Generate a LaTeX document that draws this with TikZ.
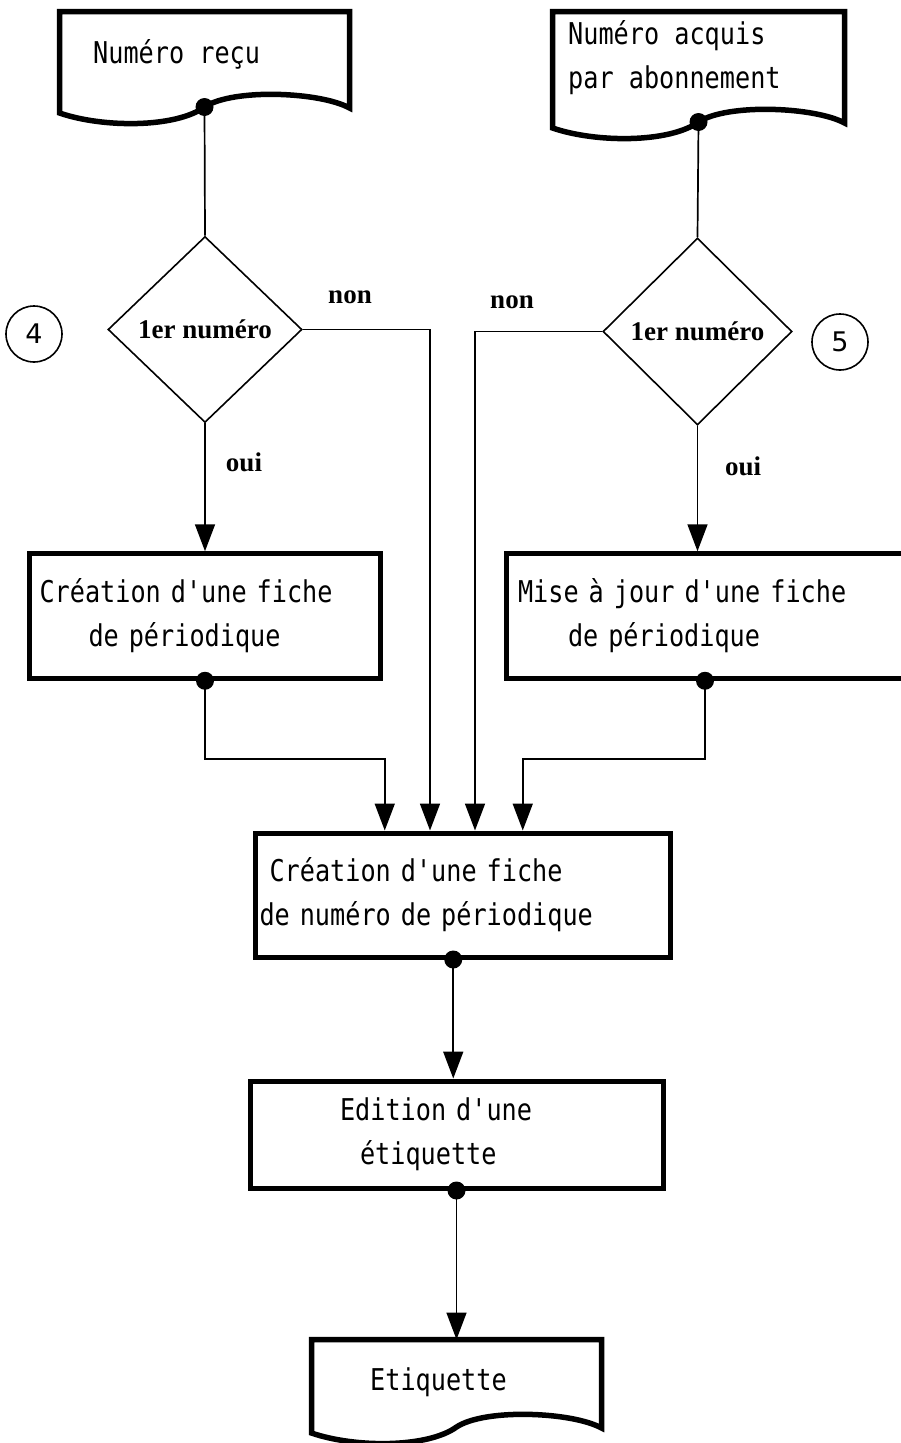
\documentclass[tikz,border=0pt]{standalone}
\usepackage{fontspec}
\usetikzlibrary{arrows.meta,shapes.geometric}
\newfontfamily\boxfont{DejaVu Sans Mono}[FakeStretch=0.84]
\newfontfamily\askfont{Liberation Serif}
\newfontfamily\numfont{DejaVu Sans}
\newcommand\docframe[5]{%
  \draw[docline] (#2,#5) -- (#2,#3) -- (#4,#3) -- (#4,#5-5)
    .. controls ({#2+0.9*(#4-#2)},#5-21) and ({#2+0.6*(#4-#2)},#5-25) .. ({(#2+#4)/2},#5-6) coordinate (#1-dot)
    .. controls ({#2+0.4*(#4-#2)},#5+15) and ({#2+0.15*(#4-#2)},#5+15) .. (#2,#5) -- cycle;
  \coordinate (#1-top) at ({(#2+#4)/2},#3);}

\begin{document}
\begin{tikzpicture}[x=1pt,y=-1pt,
    txt/.style={font=\boxfont\fontsize{30}{44}\selectfont, inner sep=0pt},
    ask/.style={font=\askfont\bfseries\fontsize{27}{30}\selectfont, inner sep=0pt},
    docline/.style={line width=5.5pt},
    proc/.style={draw, rectangle, line width=5pt, align=left, txt},
    test/.style={draw, diamond, line width=1.6pt, minimum width=194pt, minimum height=186pt, ask},
    tag/.style={draw, circle, line width=1.6pt, minimum size=56pt, inner sep=0pt, font=\numfont\fontsize{27}{27}\selectfont},
    link/.style={line width=1.7pt},
    flow/.style={link, -{Triangle[length=27pt,width=20pt]}}]
    \useasboundingbox (0,0) rectangle (901,1443);
    \clip (0,0) rectangle (901,1443);
    \docframe{recu}{59.5}{11.5}{349.5}{113}
    \docframe{acquis}{552.5}{11.5}{844.5}{128}
    \docframe{etq}{311.5}{1339.5}{601.5}{1433}
    \node[txt, anchor=base west] (recutxt) at (93,63) {Numéro reçu};
    \node[txt, anchor=west, align=left] (acquistxt) at (568,58) {Numéro acquis\\par abonnement};
    \node[txt, anchor=base west] (etqtxt) at (370,1390) {Etiquette};
    \node[test] (q1) at (205,329.5) {1er numéro};
    \node[test, minimum width=189pt, minimum height=187pt] (q2) at (697.5,331.5) {1er numéro};
    \node[tag] (n4) at (34,334) {4};
    \node[tag] (n5) at (840,342) {5};
    \node[ask] (non1) at (350,297) {non};
    \node[ask] (non2) at (512,302) {non};
    \node[ask] (oui1) at (244,462) {oui};
    \node[ask] (oui2) at (743,466) {oui};
    \node[proc, text width=331pt, inner xsep=10pt, minimum height=124.5pt] (fper) at (205,616) {Création d'une fiche\\\hspace*{49pt}de périodique};
    \node[proc, text width=374pt, inner xsep=12pt, minimum height=124.5pt] (maj) at (705,616) {Mise à jour d'une fiche\\\hspace*{50pt}de périodique};
    \node[proc, text width=406.5pt, inner xsep=4pt, minimum height=124pt] (fnum) at (462.75,895) {\hspace*{10pt}Création d'une fiche\\de numéro de périodique};
    \node[proc, text width=233pt, inner xsep=90pt, minimum height=107pt] (edit) at (456.5,1134.5) {Edition d'une\\\hspace*{20pt}étiquette};
    \draw[link] (recu-dot) -- (q1.north);
    \draw[link] (acquis-dot) -- (q2.north);
    \draw[flow] (q1.south) -- (q1.south |- fper.north);
    \draw[flow] (q2.south) -- (q2.south |- maj.north);
    \draw[flow] (q1.east) -| ([xshift=-32.75pt]fnum.north);
    \draw[flow] (q2.west) -| ([xshift=12.25pt]fnum.north);
    \draw[flow] (fper.south) -- ++(0,78) -| ([xshift=-78pt]fnum.north);
    \draw[flow] (maj.south) -- ++(0,78) -| ([xshift=60pt]fnum.north);
    \draw[flow] ([xshift=-9.5pt]fnum.south) -- ([xshift=-9.5pt]fnum.south |- edit.north);
    \draw[flow] (edit.south) -- (etq-top);
    \fill (recu-dot) circle[radius=9pt];
    \fill (acquis-dot) circle[radius=9pt];
    \fill (fper.south) circle[radius=9pt];
    \fill (maj.south) circle[radius=9pt];
    \fill ([xshift=-9.5pt]fnum.south) circle[radius=9pt];
    \fill (edit.south) circle[radius=9pt];
\end{tikzpicture}
\end{document}
